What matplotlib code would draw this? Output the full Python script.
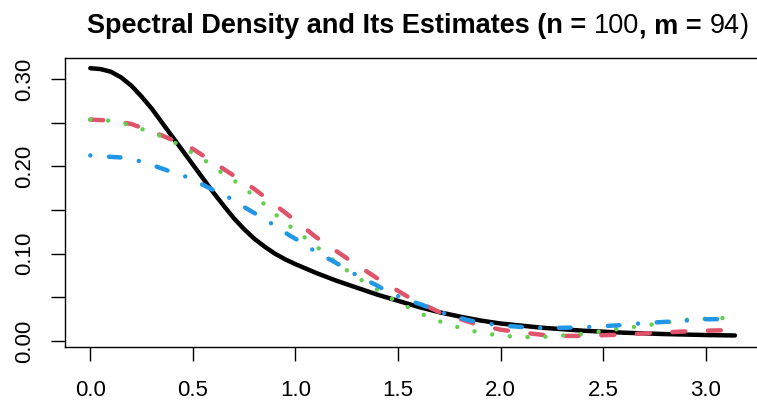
import numpy as np
import matplotlib
matplotlib.use('Agg')
import matplotlib.pyplot as plt

# true spectral density
freq_true = [0.0, 0.05, 0.1, 0.15, 0.2, 0.25, 0.3, 0.35, 0.4, 0.45, 0.5,
             0.55, 0.6, 0.65, 0.7, 0.75, 0.8, 0.85, 0.9, 0.95, 1.0, 1.1,
             1.2, 1.3, 1.4, 1.5, 1.6, 1.7, 1.8, 1.9, 2.0, 2.2, 2.4, 2.6,
             2.8, 3.0, 3.1416]
dens_true = [0.3125, 0.3115, 0.3085, 0.302, 0.2925, 0.280, 0.266, 0.250,
             0.234, 0.218, 0.202, 0.186, 0.170, 0.155, 0.1405, 0.128, 0.117,
             0.108, 0.100, 0.0935, 0.088, 0.078, 0.069, 0.061, 0.053, 0.046,
             0.039, 0.033, 0.028, 0.0235, 0.020, 0.0152, 0.0118, 0.0095,
             0.0079, 0.0068, 0.0063]

# estimate 1 (red, dashed)
freq_red = [0.0, 0.1, 0.2, 0.35, 0.5, 0.65, 0.8, 0.95, 1.1, 1.25, 1.4, 1.55,
            1.7, 1.87, 2.0, 2.1, 2.25, 2.4, 2.6, 2.8, 2.95, 3.1416]
dens_red = [0.2536, 0.2526, 0.2486, 0.2354, 0.220, 0.197, 0.174, 0.147,
            0.119, 0.0948, 0.0715, 0.0503, 0.0331, 0.0200, 0.0129, 0.0098,
            0.0058, 0.0058, 0.0074, 0.0098, 0.0115, 0.0126]

# estimate 2 (green, dotted)
freq_green = [0.0, 0.083, 0.176, 0.254, 0.337, 0.42, 0.50, 0.57, 0.64, 0.72,
              0.785, 0.858, 0.92, 0.99, 1.06, 1.13, 1.2, 1.27, 1.35, 1.42,
              1.50, 1.58, 1.66, 1.74, 1.82, 1.91, 2.0, 2.09, 2.18, 2.27,
              2.36, 2.44, 2.53, 2.62, 2.71, 2.80, 2.88, 3.06, 3.1416]
dens_green = [0.2536, 0.2526, 0.2486, 0.2425, 0.2354, 0.2263, 0.2152, 0.2051,
              0.1929, 0.1808, 0.1686, 0.155, 0.1413, 0.1282, 0.1160, 0.1029,
              0.0897, 0.0776, 0.0655, 0.0554, 0.0442, 0.0351, 0.0260, 0.0194,
              0.0139, 0.0091, 0.0061, 0.0046, 0.0042, 0.0058, 0.0072, 0.0095,
              0.0123, 0.0152, 0.0179, 0.0210, 0.0240, 0.0262, 0.0265]

# estimate 3 (blue, dot-dash)
freq_blue = [0.0, 0.09, 0.16, 0.24, 0.32, 0.38, 0.47, 0.55, 0.61, 0.69, 0.76,
             0.83, 0.90, 0.97, 1.03, 1.10, 1.18, 1.24, 1.31, 1.39, 1.45, 1.53,
             1.62, 1.68, 1.76, 1.84, 1.91, 2.0, 2.08, 2.16, 2.24, 2.32, 2.40,
             2.49, 2.57, 2.64, 2.73, 2.81, 2.89, 2.97, 3.06, 3.1416]
dens_blue = [0.2126, 0.2111, 0.2101, 0.2061, 0.200, 0.195, 0.1879, 0.1788,
             0.1717, 0.1626, 0.152, 0.1424, 0.132, 0.1211, 0.1130, 0.1019,
             0.0918, 0.0837, 0.0736, 0.0645, 0.0564, 0.0483, 0.0412, 0.0351,
             0.0291, 0.0240, 0.0206, 0.0179, 0.0164, 0.0149, 0.0149, 0.0152,
             0.0157, 0.0169, 0.0179, 0.0194, 0.0210, 0.0220, 0.0230, 0.0248,
             0.0250, 0.0244]

x_ticks = [0.0, 0.5, 1.0, 1.5, 2.0, 2.5, 3.0]
x_labels = ['0.0', '0.5', '1.0', '1.5', '2.0', '2.5', '3.0']
y_ticks = [0.0, 0.05, 0.10, 0.15, 0.20, 0.25, 0.30]
y_labels = ['0.00', '', '0.10', '', '0.20', '', '0.30']

plt.rcParams['font.family'] = ['Liberation Sans', 'DejaVu Sans']

W, H = 757, 409
fig = plt.figure(figsize=(W / 100, H / 100), dpi=100)
ax = fig.add_axes([64.5 / W, 62 / H, 696.2 / W, 289 / H])

lw = 3.2
ax.plot(freq_true, dens_true, color='black', lw=lw, solid_capstyle='round',
        solid_joinstyle='round')
ax.plot(freq_red, dens_red, color='#DF536B', lw=lw,
        linestyle=(0, (2.9, 5.1)), dash_capstyle='round')
ax.plot(freq_green, dens_green, color='#61D04F', lw=lw,
        linestyle=(0, (0.01, 4)), dash_capstyle='round')
ax.plot(freq_blue, dens_blue, color='#2297E6', lw=lw,
        linestyle=(0, (0.01, 4.2, 2.6, 4.2)), dash_capstyle='round')

ax.set_xlim(-0.1257, 3.2673)
ax.set_ylim(-0.0069, 0.3242)
ax.spines['right'].set_visible(False)
for s in ['left', 'bottom', 'top']:
    ax.spines[s].set_linewidth(1.0)

ax.set_xticks(x_ticks)
ax.set_xticklabels(x_labels)
ax.set_yticks(y_ticks)
ax.set_yticklabels(y_labels, rotation=90, va='center')
ax.tick_params(direction='out', length=10, width=1, labelsize=16,
               colors='black')
ax.tick_params(axis='x', pad=14)
ax.tick_params(axis='y', pad=11)

# title with mixed bold / plain pieces, centred like the original
fig.canvas.draw()
rend = fig.canvas.get_renderer()
title_size = 19.5
parts = [("Spectral Density and Its Estimates (n = ", 'bold'),
         ("100", 'normal'), (", m = ", 'bold'), ("94", 'normal'),
         (")", 'normal')]


def text_width(s, weight):
    t = fig.text(0, 0, s + '|', fontsize=title_size, fontweight=weight)
    b = fig.text(0, 0, '|', fontsize=title_size, fontweight=weight)
    w = t.get_window_extent(rend).width - b.get_window_extent(rend).width
    t.remove()
    b.remove()
    return w


widths = [text_width(s, w) for s, w in parts]
x = 418 - sum(widths) / 2
for (s, w), wd in zip(parts, widths):
    fig.text(x / W, (H - 33) / H, s, fontsize=title_size, fontweight=w,
             va='baseline', ha='left')
    x += wd

fig.savefig('out.png', dpi=100)
